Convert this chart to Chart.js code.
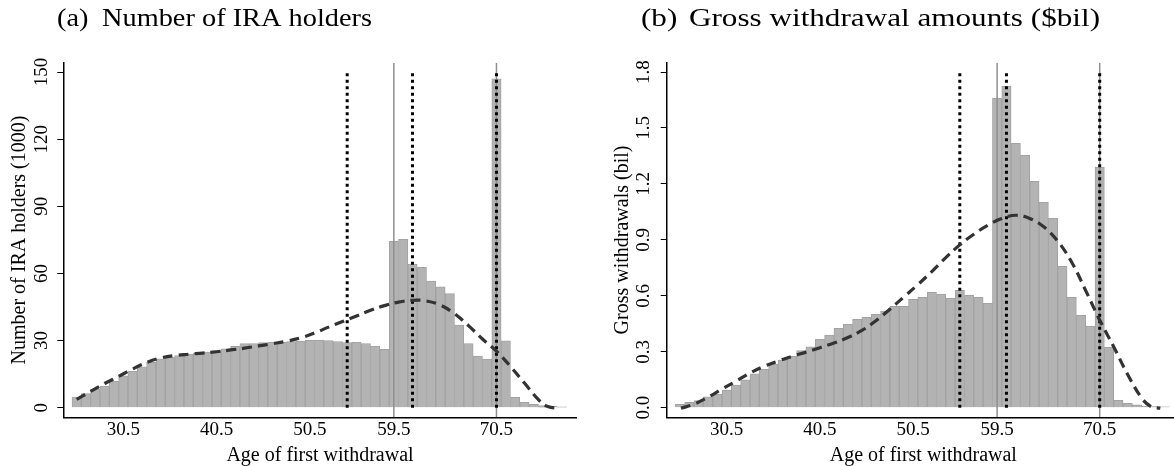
<!DOCTYPE html>
<html>
<head>
<meta charset="utf-8">
<script src="https://cdn.jsdelivr.net/npm/chart.js@4.4.1/dist/chart.umd.min.js"></script>
<style>
  html, body { margin: 0; padding: 0; background: #fff; overflow: hidden; width: 1174px; height: 466px; }
  canvas { position: absolute; top: 0; }
  #chartA { left: 0; }
  #chartB { left: 603px; }
</style>
</head>
<body>
<canvas id="chartA" width="590" height="466"></canvas>
<canvas id="chartB" width="590" height="466"></canvas>
<script>
// one-year bins, centred on the half year
const ages = [25.5, 26.5, 27.5, 28.5, 29.5, 30.5, 31.5, 32.5, 33.5, 34.5, 35.5, 36.5, 37.5, 38.5, 39.5,
  40.5, 41.5, 42.5, 43.5, 44.5, 45.5, 46.5, 47.5, 48.5, 49.5, 50.5, 51.5, 52.5, 53.5, 54.5, 55.5, 56.5,
  57.5, 58.5, 59.5, 60.5, 61.5, 62.5, 63.5, 64.5, 65.5, 66.5, 67.5, 68.5, 69.5, 70.5, 71.5, 72.5, 73.5,
  74.5, 75.5, 76.5, 77.5];

// (a) number of IRA holders, thousands
const holders = [4.8, 6.3, 8.2, 9.7, 11.8, 14.2, 16.3, 18.3, 20.3, 21.8, 22.6, 23.3, 24.0, 24.4, 24.8,
  25.4, 26.3, 27.4, 28.6, 28.7, 29.1, 29.3, 29.3, 29.5, 29.8, 30.1, 30.2, 30.0, 29.6, 29.1, 29.2, 28.7,
  27.5, 26.1, 74.3, 75.2, 64.2, 62.7, 56.6, 54.0, 51.0, 36.9, 28.7, 23.1, 21.7, 147.0, 29.9, 4.6, 2.4,
  1.5, 0.9, 0.6, 0.4];

// (b) gross withdrawals, $bil
const withdrawals = [0.018, 0.029, 0.038, 0.058, 0.073, 0.095, 0.121, 0.150, 0.181, 0.207, 0.232, 0.256,
  0.276, 0.306, 0.327, 0.367, 0.389, 0.425, 0.447, 0.474, 0.485, 0.501, 0.518, 0.544, 0.543, 0.581, 0.592,
  0.618, 0.609, 0.587, 0.630, 0.602, 0.592, 0.560, 1.659, 1.725, 1.418, 1.353, 1.214, 1.101, 1.016, 0.758,
  0.592, 0.495, 0.438, 1.290, 0.324, 0.040, 0.024, 0.015, 0.009, 0.006, 0.005];

// smooth fitted curves (dashed)
const fitAgesA = [25.5, 27, 28.5, 30, 31.5, 33, 34.5, 36, 37.5, 39, 40.5, 42, 43.5, 45, 46.5, 48, 49.5,
  51, 52.5, 54, 55.5, 57, 58.5, 60, 61.5, 63, 64.5, 66, 67.5, 69, 70.5, 72, 73.5, 75, 76, 77.3];
const fitHolders = [3.7, 7.3, 10.8, 14.0, 17.3, 20.2, 22.2, 23.3, 23.9, 24.4, 25.0, 25.8, 26.6, 27.6,
  28.6, 29.7, 31.2, 33.4, 36.0, 38.5, 41.0, 43.5, 45.6, 47.2, 48.0, 47.7, 45.8, 42.0, 36.7, 30.7, 25.3,
  18.4, 11.0, 3.6, 0.5, -0.3];

const fitAgesB = [25.6, 27, 28.5, 30, 31.5, 33, 34.5, 36, 37.5, 39, 40.5, 42, 43.5, 45, 46.5, 48, 49.5,
  51, 52.5, 54, 55.5, 57, 58.5, 60, 61.5, 63, 64.5, 66, 67.5, 69, 70.5, 72, 73.5, 75, 76, 77];
const fitWithdrawals = [-0.003, 0.019, 0.056, 0.1, 0.142, 0.186, 0.222, 0.25, 0.275, 0.298, 0.322, 0.347,
  0.376, 0.414, 0.466, 0.528, 0.594, 0.66, 0.73, 0.805, 0.873, 0.93, 0.978, 1.014, 1.032, 1.015, 0.97,
  0.893, 0.78, 0.628, 0.47, 0.327, 0.178, 0.052, 0.006, -0.003];

const cutoffAges = [59.5, 70.5];        // solid grey lines
const markerAgesA = [54.5, 61.5, 70.5]; // dotted lines, panel a
const markerAgesB = [55.5, 60.5, 70.5]; // dotted lines, panel b

const xTicks = [30.5, 40.5, 50.5, 59.5, 70.5];
const yTicksA = [0, 30, 60, 90, 120, 150];
const yTicksB = [0, 0.3, 0.6, 0.9, 1.2, 1.5, 1.8];

const serif = '"Liberation Serif", "Times New Roman", serif';

// subfigure caption, stretched to the width it takes in the paper
const captionPlugin = {
  id: 'caption',
  afterDraw(chart, args, o) {
    const ctx = chart.ctx;
    ctx.save();
    ctx.font = `${o.size}px ${serif}`;
    ctx.fillStyle = '#000';
    ctx.textBaseline = 'alphabetic';
    const sx = (o.right - o.left) / ctx.measureText(o.text).width;
    ctx.translate(o.labelX, o.baseline);
    ctx.scale(sx, 1);
    ctx.fillText(o.label, 0, 0);
    ctx.restore();
    ctx.save();
    ctx.font = `${o.size}px ${serif}`;
    ctx.fillStyle = '#000';
    ctx.translate(o.left, o.baseline);
    ctx.scale(sx, 1);
    ctx.fillText(o.text, 0, 0);
    ctx.restore();
  },
};

function createPanel(el, p) {
  const solid = { borderColor: '#8f8f8f', borderWidth: 1.5 };
  const dotted = { borderColor: '#000', borderWidth: 3, borderDash: [3, 3.5], borderCapStyle: 'butt' };
  const top = p.yTicks[p.yTicks.length - 1];

  const datasets = [
    {
      type: 'bar',
      data: ages.map((x, i) => ({ x, y: p.bars[i] })),
      backgroundColor: '#b3b3b3',
      borderColor: '#a2a2a2',
      borderWidth: 1,
      barPercentage: 1,
      categoryPercentage: 1,
      order: 4,
    },
    ...cutoffAges.map((x) => ({
      type: 'line', data: [{ x, y: p.yMin }, { x, y: p.yMax }], pointRadius: 0, order: 3, ...solid,
    })),
    ...p.markers.map((x) => ({
      type: 'line', data: [{ x, y: 0 }, { x, y: top }], pointRadius: 0, order: 2, ...dotted,
    })),
    {
      type: 'line',
      data: p.fitAges.map((x, i) => ({ x, y: p.fit[i] })),
      borderColor: '#333',
      borderWidth: 3.2,
      borderDash: [10, 6],
      pointRadius: 0,
      tension: 0.4,
      order: 1,
    },
  ];

  return new Chart(el, {
    type: 'bar',
    data: { datasets },
    plugins: [captionPlugin],
    options: {
      responsive: false,
      animation: false,
      events: [],
      layout: { padding: { left: 0, top: 62.7, right: p.padRight, bottom: 0 } },
      plugins: {
        legend: { display: false },
        tooltip: { enabled: false },
        caption: p.caption,
      },
      scales: {
        x: {
          type: 'linear',
          min: 24.07,
          max: 79.1,
          offset: false,
          afterBuildTicks: (s) => { s.ticks = xTicks.map((value) => ({ value })); },
          afterFit: (s) => { s.height = 48.7; },
          ticks: {
            font: { family: serif, size: 19 }, color: '#000', padding: 1,
            maxRotation: 0, autoSkip: false, callback: (v) => v.toFixed(1),
          },
          grid: { display: false, drawTicks: false },
          border: { display: true, color: '#000', width: 1.5 },
          title: {
            display: true, text: 'Age of first withdrawal', color: '#000',
            font: { family: serif, size: 20, lineHeight: 1 }, padding: { top: 0, bottom: 0 },
          },
        },
        y: {
          type: 'linear',
          min: p.yMin,
          max: p.yMax,
          afterBuildTicks: (s) => { s.ticks = p.yTicks.map((value) => ({ value })); },
          afterFit: (s) => { s.width = p.axisW; },
          ticks: {
            font: { family: serif, size: 19 }, color: '#000', padding: p.tickPad,
            minRotation: 90, maxRotation: 90, crossAlign: 'center', autoSkip: false, callback: p.fmt,
          },
          grid: { drawOnChartArea: false, drawTicks: true, tickLength: 6, color: '#000', lineWidth: 1 },
          border: { display: true, color: '#000', width: 1.5 },
          title: {
            display: true, text: p.yTitle, color: '#000',
            font: { family: serif, size: 20, lineHeight: 1 }, padding: { top: 10, bottom: 0 },
          },
        },
      },
    },
  });
}

createPanel(document.getElementById('chartA'), {
  bars: holders, fitAges: fitAgesA, fit: fitHolders, markers: markerAgesA,
  yMin: -4.29, yMax: 154.16, yTicks: yTicksA, fmt: (v) => String(v),
  yTitle: 'Number of IRA holders (1000)', tickPad: 1, axisW: 63.3, padRight: 13.3,
  caption: { label: '(a)', labelX: 57, text: 'Number of IRA holders', left: 102, right: 372, baseline: 26, size: 26 },
});

createPanel(document.getElementById('chartB'), {
  bars: withdrawals, fitAges: fitAgesB, fit: fitWithdrawals, markers: markerAgesB,
  yMin: -0.0515, yMax: 1.85, yTicks: yTicksB, fmt: (v) => v.toFixed(1),
  yTitle: 'Gross withdrawals (bil)', tickPad: 4.5, axisW: 63.7, padRight: 13.1,
  caption: { label: '(b)', labelX: 38, text: 'Gross withdrawal amounts ($bil)', left: 86, right: 497, baseline: 26, size: 26 },
});
</script>
</body>
</html>
